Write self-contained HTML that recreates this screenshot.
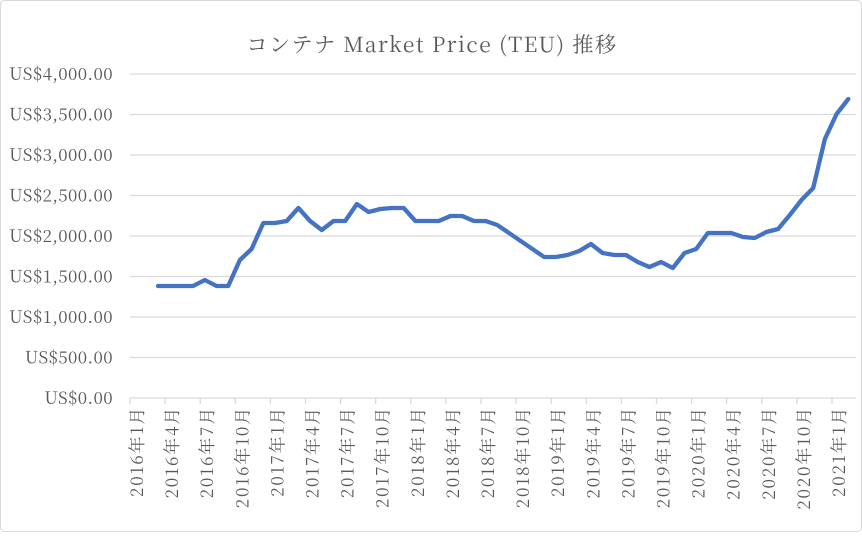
<!DOCTYPE html>
<html><head><meta charset="utf-8"><style>
body{margin:0;background:#fff}
svg text{font-family:"Noto Serif CJK JP","Liberation Serif",serif;fill:#595959}
</style></head><body>
<svg width="862" height="532" xmlns="http://www.w3.org/2000/svg">
<rect x="0.5" y="0.5" width="861" height="531" rx="4" fill="#fff" stroke="#d9d9d9"/>
<text x="432" y="52" font-size="21" letter-spacing="1.5" text-anchor="middle">コンテナ Market Price (TEU) 推移</text>
<g stroke="#d9d9d9" stroke-width="1.3">
<line x1="130" x2="856" y1="74" y2="74"/><line x1="130" x2="856" y1="114.5" y2="114.5"/>
<line x1="130" x2="856" y1="155" y2="155"/><line x1="130" x2="856" y1="195.5" y2="195.5"/>
<line x1="130" x2="856" y1="236" y2="236"/><line x1="130" x2="856" y1="276.5" y2="276.5"/>
<line x1="130" x2="856" y1="317" y2="317"/><line x1="130" x2="856" y1="357.5" y2="357.5"/>
<line x1="130" x2="856" y1="398" y2="398"/>
</g>
<g font-size="17" letter-spacing="0.4" text-anchor="end">
<text x="113" y="80">US$4,000.00</text><text x="113" y="120.5">US$3,500.00</text>
<text x="113" y="161">US$3,000.00</text><text x="113" y="201.5">US$2,500.00</text>
<text x="113" y="242">US$2,000.00</text><text x="113" y="282.5">US$1,500.00</text>
<text x="113" y="323">US$1,000.00</text><text x="113" y="363.5">US$500.00</text>
<text x="113" y="404">US$0.00</text>
</g>
<g id="ticks" stroke="#d9d9d9" stroke-width="1.3"></g>
<g id="labels" font-size="17" letter-spacing="1.8"></g>
<polyline id="line" fill="none" stroke="#4472c4" stroke-width="4.3" stroke-linejoin="round" stroke-linecap="round"/>
</svg>
<script>
var ys=[286,286,286,286,280,286,286,260,249,223,223,221,208,221,230,221,221,204,212,209,208,208,221,221,221,216,216,221,221,225,233,241,249,257,257,255,251,244,253,255,255,262,267,262,268,253,249,233,233,233,237,238,232,229,215,200,188,139,114,99];
var pts=ys.map(function(y,k){return (158+11.7*k).toFixed(1)+","+y}).join(" ");
document.getElementById("line").setAttribute("points",pts);
var ns="http://www.w3.org/2000/svg";
var tg=document.getElementById("ticks"),lg=document.getElementById("labels");
for(var j=0;j<=20;j++){
 var x=130+35.1*j;
 var ln=document.createElementNS(ns,"line");ln.setAttribute("x1",x);ln.setAttribute("x2",x);ln.setAttribute("y1",398);ln.setAttribute("y2",404);tg.appendChild(ln);
 var m=j*3,yr=2016+Math.floor(m/12),mo=m%12+1;
 var tx=document.createElementNS(ns,"text");
 var cx=x+13;
 tx.setAttribute("transform","translate("+cx+",406) rotate(-90)");
 tx.setAttribute("text-anchor","end");
 tx.textContent=yr+"年"+mo+"月";lg.appendChild(tx);
}
</script>
</body></html>
